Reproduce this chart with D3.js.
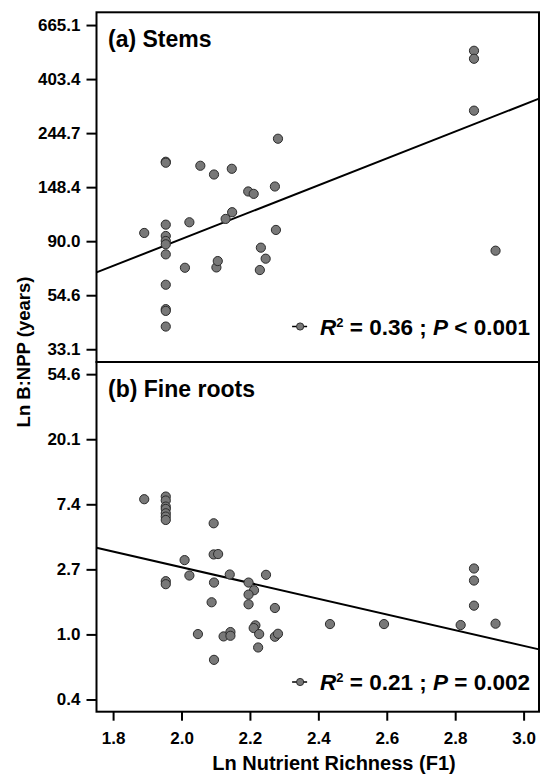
<!DOCTYPE html>
<html>
<head>
<meta charset="utf-8">
<script src="https://cdn.jsdelivr.net/npm/d3@7"></script>
<style>
    body { margin: 0; background: #fff; }
    text { font-family: "Liberation Sans", Arial, sans-serif; font-weight: bold; fill: #000; }
</style>
</head>
<body>
<div id="chart"></div>
<script>
// ln values
const stemsX = [1.891, 1.954, 1.954, 1.954, 1.954, 1.954, 1.954, 1.954, 1.954, 1.954, 1.954, 1.954,
    2.010, 2.023, 2.055, 2.095, 2.102, 2.106, 2.129, 2.147, 2.148, 2.195, 2.211, 2.229, 2.232,
    2.246, 2.273, 2.276, 2.282, 2.855, 2.855, 2.855, 2.918];
const stemsY = [4.576, 5.235, 5.226, 4.653, 4.548, 4.502, 4.471, 4.378, 4.097, 3.871, 3.855, 3.710,
    4.254, 4.675, 5.198, 5.117, 4.257, 4.316, 4.706, 5.170, 4.768, 4.960, 4.938, 4.233, 4.440,
    4.338, 5.006, 4.604, 5.448, 6.262, 6.188, 5.708, 4.412];

const rootsX = [1.891, 1.954, 1.954, 1.954, 1.954, 1.954, 1.954, 1.954, 2.094, 2.094, 2.107, 2.009,
    2.023, 1.954, 1.954, 2.095, 2.141, 2.247, 2.196, 2.212, 2.196, 2.088, 2.196, 2.273, 2.434,
    2.592, 2.816, 2.918, 2.855, 2.855, 2.855, 2.216, 2.211, 2.048, 2.123, 2.143, 2.143, 2.227,
    2.273, 2.282, 2.224, 2.095];
const rootsY = [2.078, 2.119, 2.058, 1.965, 1.929, 1.862, 1.811, 1.759, 1.708, 1.229, 1.235, 1.142,
    0.905, 0.818, 0.772, 0.797, 0.921, 0.916, 0.797, 0.679, 0.612, 0.494, 0.463, 0.406, 0.159,
    0.159, 0.144, 0.165, 1.013, 0.828, 0.442, 0.139, 0.098, 0.005, -0.031, 0.036, -0.021, 0.005,
    -0.036, 0.010, -0.201, -0.391];

// fitted lines: [intercept, slope] in ln units
const stemsFit = [2.034, 1.243];
const rootsFit = [3.448, -1.208];

const xTicks = [1.8, 2.0, 2.2, 2.4, 2.6, 2.8, 3.0];
const stemsTicks = [3.5, 4.0, 4.5, 5.0, 5.5, 6.0, 6.5];
const stemsTickLabels = ["33.1", "54.6", "90.0", "148.4", "244.7", "403.4", "665.1"];
const rootsTicks = [-1, 0, 1, 2, 3, 4];
const rootsTickLabels = ["0.4", "1.0", "2.7", "7.4", "20.1", "54.6"];

const width = 541, height = 775;
const plotLeft = 96.5, plotRight = 539, plotTop = 12.3, plotMid = 362, plotBottom = 711.7;

const svg = d3.select("#chart")
    .append("svg")
    .attr("width", width)
    .attr("height", height);

const xScale = d3.scaleLinear().domain([1.7515, 3.045]).range([plotLeft, plotRight]);
const yTop = d3.scaleLinear().domain([3.382, 6.618]).range([plotMid, plotTop]);
const yBot = d3.scaleLinear().domain([-1.188, 4.187]).range([plotBottom, plotMid]);

function drawPanel(yScale, xs, ys, fit, ticks, tickLabels, title, r2, pText, y0, y1, legY) {
    const g = svg.append("g");

    // y axis
    const yAxis = d3.axisLeft(yScale)
        .tickValues(ticks)
        .tickFormat((d, i) => tickLabels[i])
        .tickSize(10)
        .tickPadding(6);
    const ya = g.append("g")
        .attr("transform", "translate(" + plotLeft + ",0)")
        .call(yAxis);
    ya.select(".domain").remove();
    ya.attr("font-size", 17).attr("font-family", null);
    ya.selectAll(".tick line").attr("stroke-width", 2);

    // fit line
    const dom = xScale.domain();
    g.append("line")
        .attr("x1", xScale(dom[0]))
        .attr("y1", yScale(fit[0] + fit[1] * dom[0]))
        .attr("x2", xScale(dom[1]))
        .attr("y2", yScale(fit[0] + fit[1] * dom[1]))
        .attr("stroke", "#000")
        .attr("stroke-width", 2);

    // points
    g.selectAll("circle")
        .data(xs)
        .enter()
        .append("circle")
        .attr("cx", d => xScale(d))
        .attr("cy", (d, i) => yScale(ys[i]))
        .attr("r", 4.6)
        .attr("fill", "#787878")
        .attr("stroke", "#2b2b2b")
        .attr("stroke-width", 1);

    // frame
    g.append("rect")
        .attr("x", plotLeft)
        .attr("y", y0)
        .attr("width", plotRight - plotLeft)
        .attr("height", y1 - y0)
        .attr("fill", "none")
        .attr("stroke", "#000")
        .attr("stroke-width", 2);

    // panel label
    g.append("text")
        .attr("x", 108)
        .attr("y", y0 + 35)
        .attr("font-size", 23)
        .text(title);

    // legend
    const leg = g.append("text")
        .attr("x", 530)
        .attr("y", legY)
        .attr("text-anchor", "end")
        .attr("font-size", 22.5);
    leg.append("tspan").attr("font-style", "italic").text("R");
    leg.append("tspan").attr("font-size", 13).attr("dy", -8).text("2");
    leg.append("tspan").attr("dy", 8).text(" = " + r2 + " ; ");
    leg.append("tspan").attr("font-style", "italic").text("P");
    leg.append("tspan").text(" " + pText);

    const start = 530 - leg.node().getComputedTextLength();
    g.append("line")
        .attr("x1", start - 28)
        .attr("x2", start - 13)
        .attr("y1", legY - 8)
        .attr("y2", legY - 8)
        .attr("stroke", "#000")
        .attr("stroke-width", 1.5);
    g.append("circle")
        .attr("cx", start - 20)
        .attr("cy", legY - 8)
        .attr("r", 3.6)
        .attr("fill", "#787878")
        .attr("stroke", "#2b2b2b")
        .attr("stroke-width", 1);
}

drawPanel(yTop, stemsX, stemsY, stemsFit, stemsTicks, stemsTickLabels,
    "(a) Stems", "0.36", "< 0.001", plotTop, plotMid, 334.5);
drawPanel(yBot, rootsX, rootsY, rootsFit, rootsTicks, rootsTickLabels,
    "(b) Fine roots", "0.21", "= 0.002", plotMid, plotBottom, 690);

// x axis
const xAxis = d3.axisBottom(xScale)
    .tickValues(xTicks)
    .tickFormat(d3.format(".1f"))
    .tickSize(9)
    .tickPadding(11);
const xa = svg.append("g")
    .attr("transform", "translate(0," + plotBottom + ")")
    .call(xAxis);
xa.select(".domain").remove();
xa.attr("font-size", 17).attr("font-family", null);
xa.selectAll(".tick line").attr("stroke-width", 2);

// axis titles
svg.append("text")
    .attr("x", 334)
    .attr("y", 770)
    .attr("text-anchor", "middle")
    .attr("font-size", 20)
    .text("Ln Nutrient Richness (F1)");

svg.append("text")
    .attr("transform", "translate(29.5,352) rotate(-90)")
    .attr("text-anchor", "middle")
    .attr("font-size", 18.5)
    .text("Ln B:NPP (years)");
</script>
</body>
</html>
